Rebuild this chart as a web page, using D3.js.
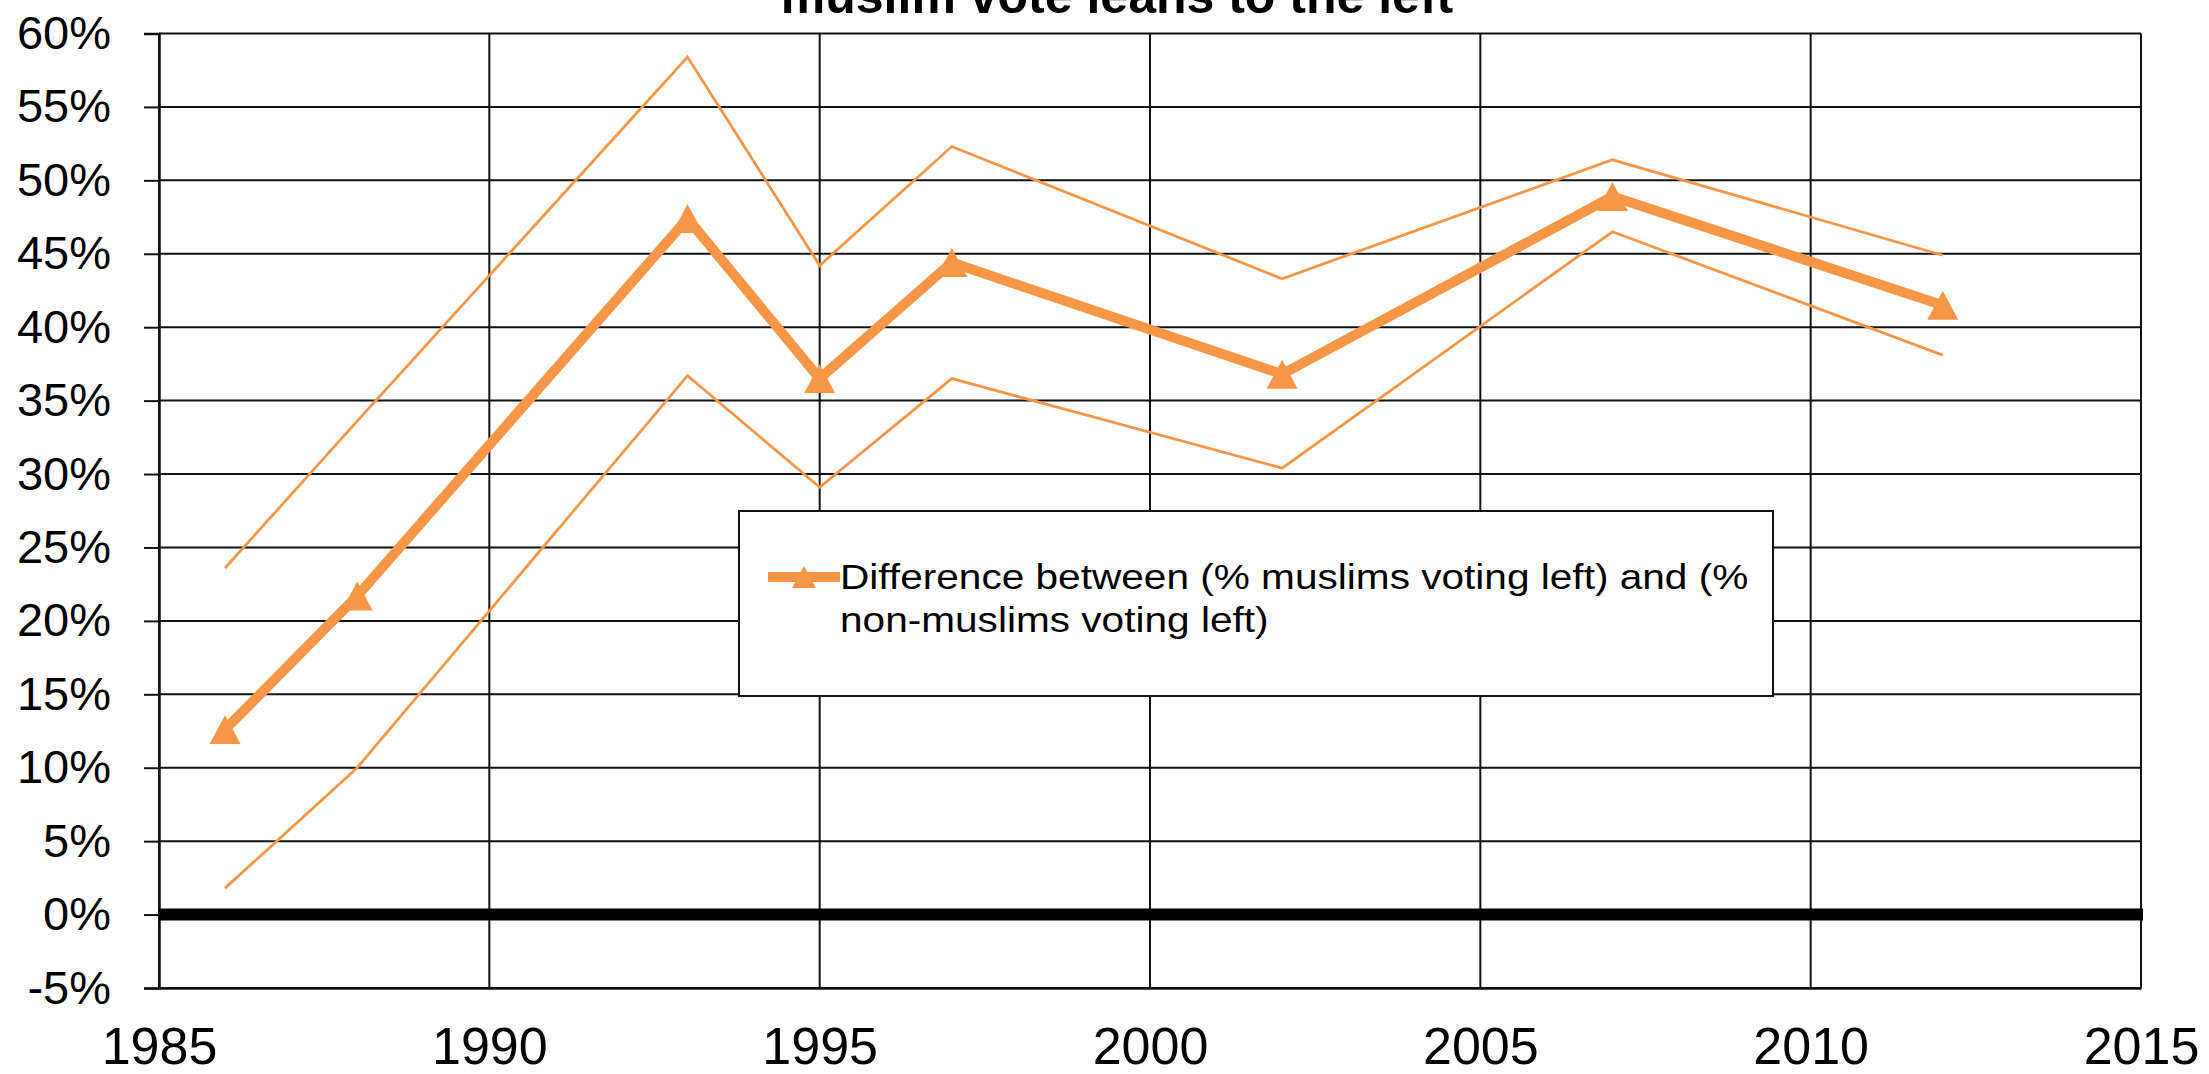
<!DOCTYPE html>
<html>
<head>
<meta charset="utf-8">
<script src="https://cdn.jsdelivr.net/npm/d3@7"></script>
<style>
  body { margin: 0; background: #fff; overflow: hidden; }
  svg { display: block; font-family: "Liberation Sans", Arial, sans-serif; }
</style>
</head>
<body>
<svg width="2209" height="1074"></svg>
<script>
// Chart data
var years = [1986, 1988, 1993, 1995, 1997, 2002, 2007, 2012];
var diff  = [12.6, 21.7, 47.4, 36.5, 44.4, 36.8, 48.9, 41.5];
var upper = [23.6, 33.6, 58.4, 44.2, 52.3, 43.3, 51.4, 44.9];
var lower = [1.8, 10.0, 36.7, 29.1, 36.5, 30.4, 46.5, 38.1];
var xTicks = [1985, 1990, 1995, 2000, 2005, 2010, 2015];
var yTicks = [-5, 0, 5, 10, 15, 20, 25, 30, 35, 40, 45, 50, 55, 60];
var title = "muslim vote leans to the left";
var legendLines = ["Difference between (% muslims voting left) and (%", "non-muslims voting left)"];

var orange = "#f79646";
var svg = d3.select("svg");

var x = d3.scaleLinear().domain([1985, 2015]).range([159, 2141]);
var y = d3.scaleLinear().domain([-5, 60]).range([988, 33.5]);

// Grid
svg.append("g").selectAll("line")
  .data(yTicks)
  .enter().append("line")
  .attr("x1", x(1985)).attr("x2", x(2015))
  .attr("y1", function(d) { return y(d); })
  .attr("y2", function(d) { return y(d); })
  .attr("stroke", "#111").attr("stroke-width", 2);

svg.append("g").selectAll("line")
  .data(xTicks)
  .enter().append("line")
  .attr("x1", function(d) { return x(d); })
  .attr("x2", function(d) { return x(d); })
  .attr("y1", y(60)).attr("y2", y(-5))
  .attr("stroke", "#111").attr("stroke-width", 2);

// Axes
var yAxis = svg.append("g")
  .attr("transform", "translate(" + x(1985) + ",0)")
  .call(d3.axisLeft(y).tickValues(yTicks).tickSize(15).tickPadding(33)
    .tickFormat(function(d) { return d + "%"; }));
yAxis.select(".domain").attr("stroke", "#111").attr("stroke-width", 2.5);
yAxis.selectAll(".tick line").attr("stroke", "#111").attr("stroke-width", 2);
yAxis.selectAll("text").attr("font-size", 47).attr("fill", "#000")
  .attr("font-family", "Liberation Sans, Arial, sans-serif");

var xAxis = svg.append("g")
  .attr("transform", "translate(0," + y(-5) + ")")
  .call(d3.axisBottom(x).tickValues(xTicks).tickSize(0).tickPadding(39)
    .tickFormat(d3.format("d")));
xAxis.select(".domain").attr("stroke", "#111").attr("stroke-width", 2.5);
xAxis.selectAll("text").attr("font-size", 52).attr("fill", "#000")
  .attr("font-family", "Liberation Sans, Arial, sans-serif");

// Zero line
svg.append("line")
  .attr("x1", x(1985)).attr("x2", x(2015) + 2)
  .attr("y1", y(0)).attr("y2", y(0))
  .attr("stroke", "#000").attr("stroke-width", 12);

// Series
function makeLine(vals) {
  return d3.line()
    .x(function(d, i) { return x(years[i]); })
    .y(function(d) { return y(d); })(vals);
}

svg.append("path").attr("d", makeLine(upper))
  .attr("fill", "none").attr("stroke", orange).attr("stroke-width", 2.8);
svg.append("path").attr("d", makeLine(lower))
  .attr("fill", "none").attr("stroke", orange).attr("stroke-width", 2.8);
svg.append("path").attr("d", makeLine(diff))
  .attr("fill", "none").attr("stroke", orange).attr("stroke-width", 10)
  .attr("stroke-linejoin", "round");

function triangle(cx, cy, w, h) {
  return "M" + cx + "," + (cy - h / 2) + "L" + (cx + w / 2) + "," + (cy + h / 2) +
    "L" + (cx - w / 2) + "," + (cy + h / 2) + "Z";
}

svg.append("g").selectAll("path")
  .data(diff)
  .enter().append("path")
  .attr("d", function(d, i) { return triangle(x(years[i]), y(d), 31, 29); })
  .attr("fill", orange);

// Legend
var legend = svg.append("g");
legend.append("rect")
  .attr("x", 739).attr("y", 511).attr("width", 1034).attr("height", 185)
  .attr("fill", "#fff").attr("stroke", "#111").attr("stroke-width", 2);
legend.append("line")
  .attr("x1", 768).attr("x2", 840).attr("y1", 577).attr("y2", 577)
  .attr("stroke", orange).attr("stroke-width", 10);
legend.append("path").attr("d", triangle(804, 577, 24, 22)).attr("fill", orange);

var legendText = legend.append("g").attr("transform", "translate(840,0) scale(1.16,1)");
legendText.selectAll("text")
  .data(legendLines)
  .enter().append("text")
  .attr("x", 0)
  .attr("y", function(d, i) { return 589.5 + i * 42.2; })
  .attr("font-size", 35)
  .attr("fill", "#000")
  .text(function(d) { return d; });

// Title (clipped at the top, as in the source)
svg.append("text")
  .attr("x", 1117).attr("y", 13)
  .attr("text-anchor", "middle")
  .attr("font-size", 50).attr("font-weight", "bold")
  .attr("fill", "#000")
  .text(title);
</script>
</body>
</html>
